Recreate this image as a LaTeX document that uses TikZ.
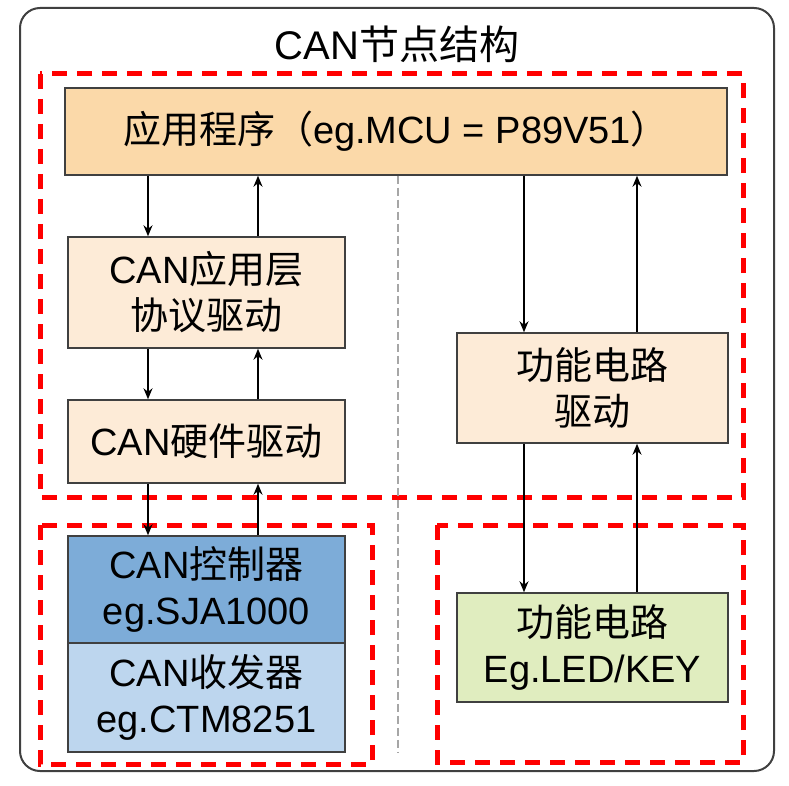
\documentclass[tikz,border=0pt]{standalone}
\usepackage{fontspec}
\setmainfont{Liberation Sans}
\newfontfamily\cjk{Noto Sans CJK SC}
\usetikzlibrary{positioning, arrows.meta}
\definecolor{naranja}{HTML}{FBD9A9}
\definecolor{crema}{HTML}{FDEBD7}
\definecolor{azul}{HTML}{7DACD8}
\definecolor{celeste}{HTML}{BDD6EE}
\definecolor{verde}{HTML}{E0EDBF}
\definecolor{borde}{HTML}{404040}
\tikzset{
	>={Stealth[length=11pt,width=9pt]}, % puntas de flecha pequenas
	caja/.style={draw=borde, line width=1.5pt, inner sep=0pt, align=center,
		minimum width=277pt, font=\fontsize{38}{46}\selectfont}, % cajas de texto
	zona/.style={draw=red, line width=5pt, dash pattern=on 15pt off 10pt}, % bloques rojos
	flecha/.style={->, line width=1.5pt, black} % conexiones
}

\begin{document}
\begin{tikzpicture}[x=1pt, y=-1pt]
	\fill[white] (0,0) rectangle (789,786);
	\draw[borde, line width=2pt, rounded corners=20pt] (20,8) rectangle (774,771);
	\node[font=\fontsize{40}{46}\selectfont] (titulo) at (397,44) {CAN{\cjk 节点结构}};
	% bloques
	\draw[zona] (40,74) rectangle (743,497);
	\draw[zona] (40,525) rectangle (372,764);
	\draw[zona] (437,525) rectangle (743,762);
	% cajas
	\node[caja, fill=naranja, minimum width=662pt, minimum height=87pt] (app) at (396,131.5)
		{{\cjk 应用程序（}eg.MCU = P89V51{\cjk ）}};
	\node[caja, fill=crema, minimum height=111pt] (capa) at (206.5,292.5)
		{CAN{\cjk 应用层}\\{\cjk 协议驱动}};
	\node[caja, fill=crema, minimum height=83pt] (hw) at (206.5,441.5)
		{CAN{\cjk 硬件驱动}};
	\node[caja, fill=azul, minimum height=107pt] (ctrl) at (206.5,589.5)
		{CAN{\cjk 控制器}\\eg.SJA1000};
	\node[caja, fill=celeste, minimum height=109pt] (trx) at (206.5,697.5)
		{CAN{\cjk 收发器}\\eg.CTM8251};
	\node[caja, fill=crema, minimum width=271pt, minimum height=110pt] (func) at (592.5,388)
		{{\cjk 功能电路}\\{\cjk 驱动}};
	\node[caja, fill=verde, minimum width=271pt, minimum height=109pt] (led) at (592.5,647.5)
		{{\cjk 功能电路}\\Eg.LED/KEY};
	% linea divisoria
	\coordinate (gris) at (398,752);
	\draw[gray!70, line width=2pt, dash pattern=on 8pt off 4pt] (app.south -| gris) -- (gris);
	% columnas de flechas
	\coordinate (c1) at (148,0);
	\coordinate (c2) at (258,0);
	\coordinate (c3) at (524,0);
	\coordinate (c4) at (637,0);
	\draw[flecha] (app.south -| c1) -- (capa.north -| c1);
	\draw[flecha] (capa.north -| c2) -- (app.south -| c2);
	\draw[flecha] (capa.south -| c1) -- (hw.north -| c1);
	\draw[flecha] (hw.north -| c2) -- (capa.south -| c2);
	\draw[flecha] (hw.south -| c1) -- (ctrl.north -| c1);
	\draw[flecha] (ctrl.north -| c2) -- (hw.south -| c2);
	\draw[flecha] (app.south -| c3) -- (func.north -| c3);
	\draw[flecha] (func.north -| c4) -- (app.south -| c4);
	\draw[flecha] (func.south -| c3) -- (led.north -| c3);
	\draw[flecha] (led.north -| c4) -- (func.south -| c4);
\end{tikzpicture}
\end{document}
